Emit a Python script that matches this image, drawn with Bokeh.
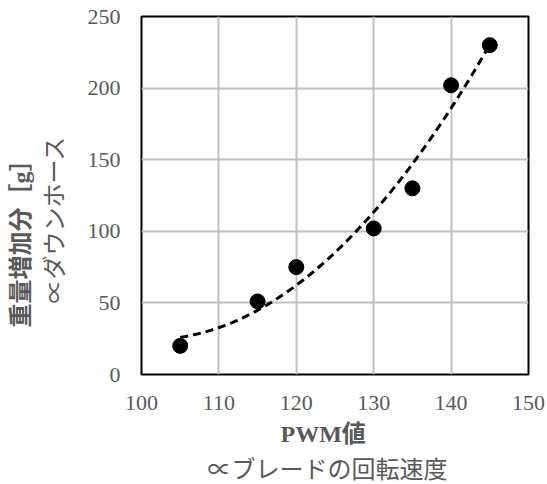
import numpy as np
from bokeh.plotting import figure
from bokeh.models import Title, Range1d, FixedTicker, LinearAxis
from bokeh.embed import file_html
from bokeh.resources import INLINE

# data
pwm = [105, 115, 120, 130, 135, 140, 145]
weight_gain = [20, 51, 75, 102, 130, 202, 230]
x_ticks = [100, 110, 120, 130, 140, 150]
y_ticks = [0, 50, 100, 150, 200, 250]

x_title = "PWM値"
x_sub = "∝ブレードの回転速度"
y_title = "重量増加分［g］"
y_sub = "∝ダウンホース"

FONT = "Liberation Serif, 'Noto Sans CJK JP', 'DejaVu Serif'"
GREY = "#595959"

p = figure(width=547, height=484, output_backend="svg", toolbar_location=None,
           x_range=Range1d(100, 150), y_range=Range1d(0, 250),
           min_border_left=141, min_border_right=19, min_border_top=16,
           min_border_bottom=110)

p.outline_line_color = "black"
p.outline_line_width = 2
p.background_fill_color = "white"

for ax, ticks in ((p.xaxis[0], x_ticks), (p.yaxis[0], y_ticks)):
    ax.ticker = FixedTicker(ticks=ticks)
    ax.axis_line_color = None
    ax.major_tick_line_color = None
    ax.minor_tick_line_color = None
    ax.major_tick_out = 0
    ax.major_tick_in = 0
    ax.major_label_text_font = FONT
    ax.major_label_text_font_size = "22px"
    ax.major_label_text_color = GREY
p.xaxis.major_label_standoff = 21
p.yaxis.major_label_standoff = 21

p.grid.grid_line_color = "#c0c0c0"
p.grid.grid_line_width = 2
p.xgrid.ticker = FixedTicker(ticks=x_ticks)
p.ygrid.ticker = FixedTicker(ticks=y_ticks)

# invisible spacer axis between the tick labels and the axis titles
spacer = LinearAxis(ticker=FixedTicker(ticks=[]), axis_line_color=None,
                    major_tick_line_color=None, minor_tick_line_color=None,
                    major_tick_in=0, major_tick_out=13)
p.add_layout(spacer, "left")

# quadratic trend line fitted to the data
coef = np.polyfit(pwm, weight_gain, 2)
xs = np.linspace(min(pwm), max(pwm), 120)
p.line(xs, np.polyval(coef, xs), line_color="black", line_width=3, line_dash="8 5")

p.scatter(pwm, weight_gain, size=15, fill_color="black", line_color="black")

def ttl(text, where, bold=False, offset=0, standoff=0):
    t = Title(text=text, align="left", text_font=FONT, text_font_size="24px",
              text_font_style="bold" if bold else "normal", text_color=GREY,
              offset=offset, standoff=standoff)
    p.add_layout(t, where)

ttl(x_title, "below", bold=True, offset=139, standoff=13)
ttl(x_sub, "below", offset=66, standoff=2)
ttl(y_sub, "left", offset=71, standoff=33)
ttl(y_title, "left", bold=True, offset=47, standoff=-21)

open("out.html", "w").write(file_html(p, INLINE))
